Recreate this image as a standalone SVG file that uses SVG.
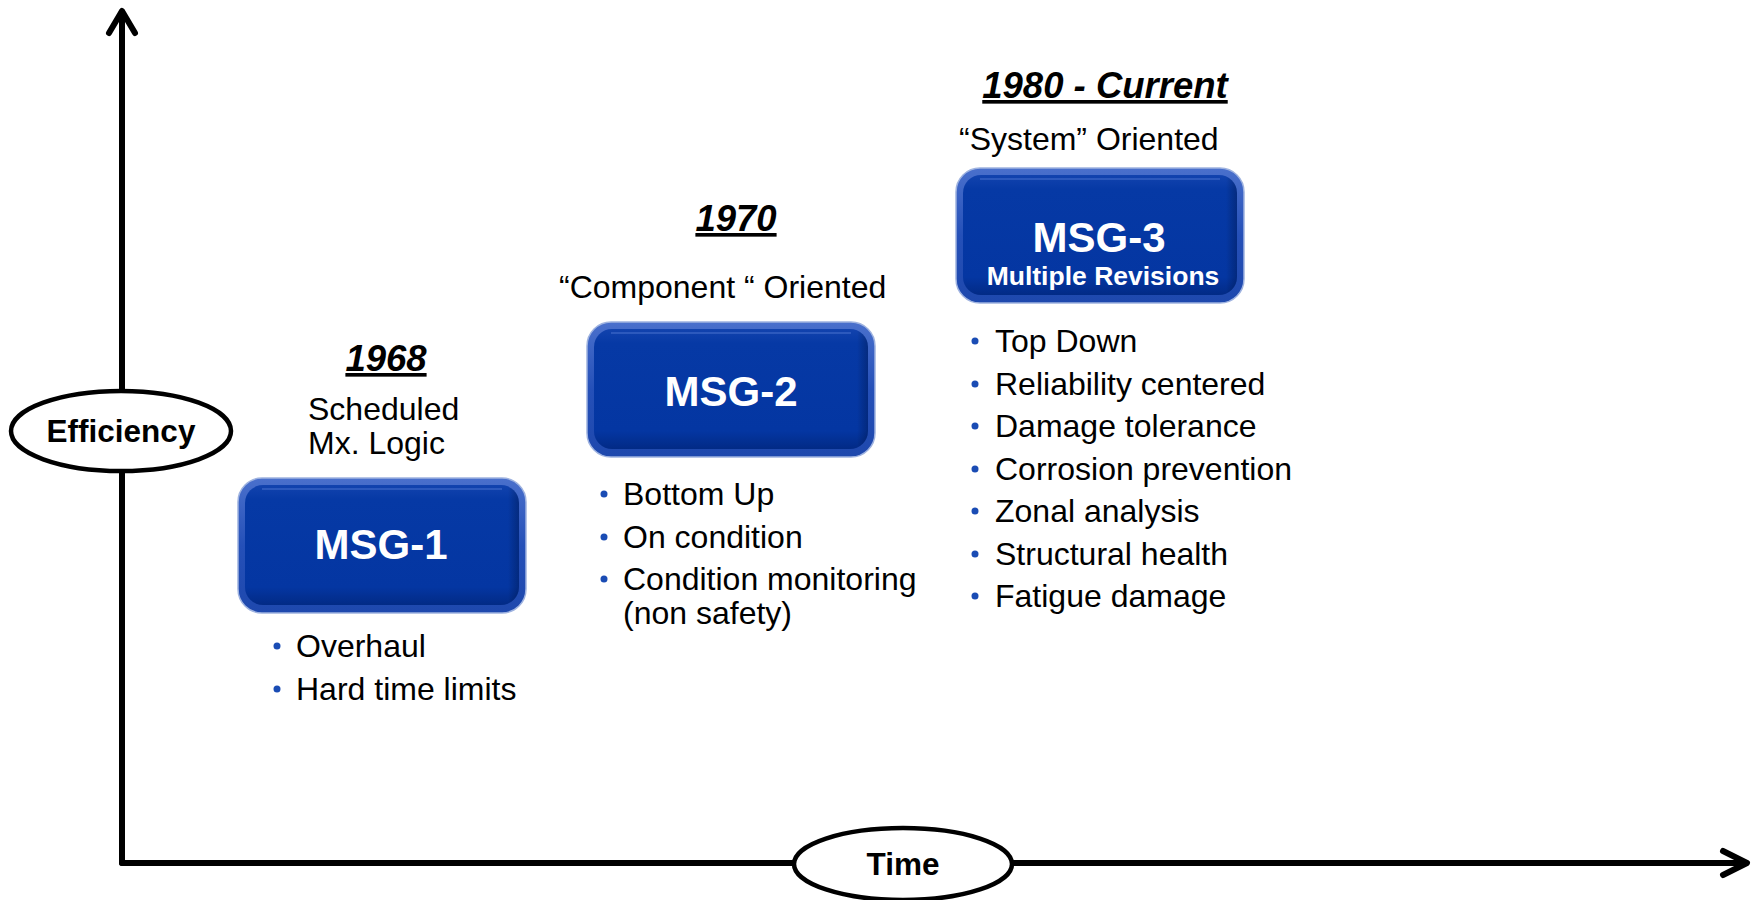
<svg xmlns="http://www.w3.org/2000/svg" width="1753" height="900" viewBox="0 0 1753 900">
  <defs>
    <linearGradient id="rim" x1="0" y1="0" x2="0" y2="1">
      <stop offset="0" stop-color="#4a70cc"/>
      <stop offset="0.5" stop-color="#2550b8"/>
      <stop offset="1" stop-color="#1e48ad"/>
    </linearGradient>
    <linearGradient id="face" x1="0" y1="0" x2="0" y2="1">
      <stop offset="0" stop-color="#1243ae"/>
      <stop offset="0.12" stop-color="#0639a5"/>
      <stop offset="0.85" stop-color="#0436a2"/>
      <stop offset="1" stop-color="#022a85"/>
    </linearGradient>
    <linearGradient id="faceSide" x1="0" y1="0" x2="1" y2="0">
      <stop offset="0" stop-color="#000" stop-opacity="0"/>
      <stop offset="0.96" stop-color="#000" stop-opacity="0"/>
      <stop offset="1" stop-color="#001" stop-opacity="0.25"/>
    </linearGradient>
  </defs>
  <style>
    .axis { stroke: #000; stroke-width: 6; fill: none; stroke-linecap: round; stroke-linejoin: round; }
    .oval { fill: #fff; stroke: #000; stroke-width: 4.5; }
    .axlabel { font-family: "Liberation Sans", Arial, sans-serif; font-weight: bold; font-size: 31.5px; fill: #000; text-anchor: middle; }
    .year { font-family: "Liberation Sans", Arial, sans-serif; font-weight: bold; font-style: italic; font-size: 36.5px; fill: #000; text-anchor: middle; text-decoration: underline; }
    .body { font-family: "Liberation Sans", Arial, sans-serif; font-size: 32px; fill: #000; }
    .boxrim { fill: url(#rim); stroke: #9fb3e0; stroke-width: 1.5; }
    .boxface { fill: url(#face); }
    .boxshade { fill: url(#faceSide); }
    .hl { stroke: #4a72cf; stroke-width: 2; fill: none; opacity: 0.5; }
    .boxtxt { font-family: "Liberation Sans", Arial, sans-serif; font-weight: bold; font-size: 42px; fill: #fff; text-anchor: middle; }
    .boxsub { font-family: "Liberation Sans", Arial, sans-serif; font-weight: bold; font-size: 26.5px; fill: #fff; text-anchor: middle; }
    .dot { fill: #1a4cb4; }
  </style>

  <g id="connectors">
    <line class="axis" x1="122" y1="12" x2="122" y2="863"/>
    <line class="axis" x1="122" y1="863" x2="1746" y2="863"/>
    <polyline class="axis" points="109,33 122,11 135,33"/>
    <polyline class="axis" points="1723,851 1747,863 1723,875"/>
  </g>

  <g id="efficiency">
    <ellipse class="oval" cx="121" cy="431" rx="110" ry="40"/>
    <text class="axlabel" x="121" y="442">Efficiency</text>
  </g>

  <g id="time">
    <ellipse class="oval" cx="903" cy="864" rx="109" ry="36"/>
    <text class="axlabel" x="903" y="875">Time</text>
  </g>

  <g id="msg1">
    <text class="year" x="386" y="371">1968</text>
    <text class="body" x="308" y="420">Scheduled</text>
    <text class="body" x="308" y="454">Mx. Logic</text>
    <rect class="boxrim" x="238" y="478" width="288" height="135" rx="24"/>
    <rect class="boxface" x="245" y="485" width="274" height="120" rx="18"/>
    <rect class="boxshade" x="245" y="485" width="274" height="120" rx="18"/>
    <path class="hl" d="M262,489 H502"/>
    <text class="boxtxt" x="381" y="559">MSG-1</text>
    <circle class="dot" cx="277" cy="646" r="3.5"/>
    <text class="body" x="296" y="657">Overhaul</text>
    <circle class="dot" cx="277" cy="689" r="3.5"/>
    <text class="body" x="296" y="700">Hard time limits</text>
  </g>

  <g id="msg2">
    <text class="year" x="736" y="231">1970</text>
    <text class="body" x="559" y="298">“Component “ Oriented</text>
    <rect class="boxrim" x="587" y="322" width="288" height="135" rx="24"/>
    <rect class="boxface" x="594" y="329" width="274" height="120" rx="18"/>
    <rect class="boxshade" x="594" y="329" width="274" height="120" rx="18"/>
    <path class="hl" d="M611,333 H851"/>
    <text class="boxtxt" x="731" y="406">MSG-2</text>
    <circle class="dot" cx="604" cy="494" r="3.5"/>
    <text class="body" x="623" y="505">Bottom Up</text>
    <circle class="dot" cx="604" cy="537" r="3.5"/>
    <text class="body" x="623" y="548">On condition</text>
    <circle class="dot" cx="604" cy="579" r="3.5"/>
    <text class="body" x="623" y="590">Condition monitoring</text>
    <text class="body" x="623" y="624">(non safety)</text>
  </g>

  <g id="msg3">
    <text class="year" x="1105" y="98">1980 - Current</text>
    <text class="body" x="959" y="150">“System” Oriented</text>
    <rect class="boxrim" x="956" y="168" width="288" height="135" rx="24"/>
    <rect class="boxface" x="963" y="175" width="274" height="120" rx="18"/>
    <rect class="boxshade" x="963" y="175" width="274" height="120" rx="18"/>
    <path class="hl" d="M980,179 H1220"/>
    <text class="boxtxt" x="1099" y="252">MSG-3</text>
    <text class="boxsub" x="1103" y="285">Multiple Revisions</text>
    <circle class="dot" cx="975" cy="341" r="3.5"/>
    <text class="body" x="995" y="352">Top Down</text>
    <circle class="dot" cx="975" cy="384" r="3.5"/>
    <text class="body" x="995" y="395">Reliability centered</text>
    <circle class="dot" cx="975" cy="426" r="3.5"/>
    <text class="body" x="995" y="437">Damage tolerance</text>
    <circle class="dot" cx="975" cy="469" r="3.5"/>
    <text class="body" x="995" y="480">Corrosion prevention</text>
    <circle class="dot" cx="975" cy="511" r="3.5"/>
    <text class="body" x="995" y="522">Zonal analysis</text>
    <circle class="dot" cx="975" cy="554" r="3.5"/>
    <text class="body" x="995" y="565">Structural health</text>
    <circle class="dot" cx="975" cy="596" r="3.5"/>
    <text class="body" x="995" y="607">Fatigue damage</text>
  </g>
</svg>
